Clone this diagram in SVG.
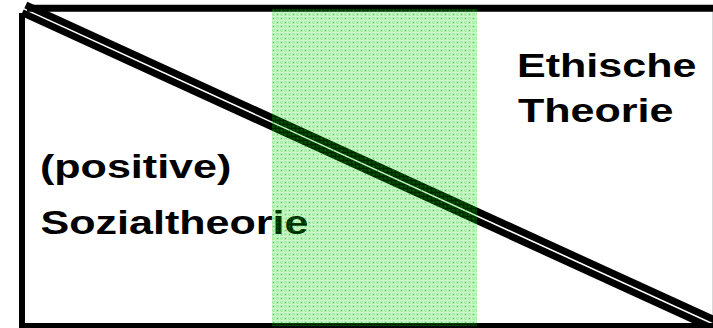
<svg xmlns="http://www.w3.org/2000/svg" width="713" height="328" viewBox="0 0 713 328">
  <defs>
    <style>
      .frame { stroke: #000; fill: none; stroke-linecap: butt; }
      .lbl { font-family: "Liberation Sans", Arial, sans-serif; font-weight: bold; font-size: 33.5px; fill: #000; }
    </style>
    <pattern id="dots" x="272" y="9" width="8" height="8" patternUnits="userSpaceOnUse">
      <rect x="0" y="0" width="3" height="3" fill="#00cc00" fill-opacity="0.32"/>
      <rect x="4" y="0" width="3" height="3" fill="#00cc00" fill-opacity="0.32"/>
      <rect x="0" y="4" width="3" height="3" fill="#00cc00" fill-opacity="0.32"/>
      <rect x="4" y="4" width="3" height="3" fill="#00cc00" fill-opacity="0.32"/>
      <rect x="3" y="0" width="1" height="8" fill="#00cc00" fill-opacity="0.2"/>
      <rect x="7" y="0" width="1" height="8" fill="#00cc00" fill-opacity="0.2"/>
      <rect x="0" y="3" width="3" height="1" fill="#00cc00" fill-opacity="0.2"/>
      <rect x="4" y="3" width="3" height="1" fill="#00cc00" fill-opacity="0.2"/>
      <rect x="0" y="7" width="3" height="1" fill="#00cc00" fill-opacity="0.2"/>
      <rect x="4" y="7" width="3" height="1" fill="#00cc00" fill-opacity="0.2"/>
      <rect x="1" y="1" width="1" height="1" fill="#009900" fill-opacity="0.45"/>
      <rect x="5" y="5" width="1" height="1" fill="#009900" fill-opacity="0.45"/>
    </pattern>
  </defs>
  <rect x="0" y="0" width="713" height="328" fill="#fff"/>
  <g id="frame">
    <line class="frame" x1="27" y1="8.2" x2="713" y2="8.2" stroke-width="7"/>
    <line class="frame" x1="22" y1="13" x2="22" y2="329" stroke-width="6"/>
    <line class="frame" x1="19" y1="326" x2="713" y2="326" stroke-width="6"/>
    <line x1="712.5" y1="12" x2="712.5" y2="323" stroke="#d8d8d8" stroke-width="1"/>
  </g>
  <g id="connectors">
    <line class="frame" x1="25.8" y1="5" x2="716" y2="320.5" stroke-width="7"/>
    <line class="frame" x1="22.2" y1="12.6" x2="716" y2="330" stroke-width="7"/>
  </g>
  <g id="ethische">
    <text class="lbl" transform="translate(517 77) scale(1.285 1)">Ethische</text>
    <text class="lbl" transform="translate(518 122) scale(1.285 1)">Theorie</text>
  </g>
  <g id="sozial">
    <text class="lbl" transform="translate(40 178) scale(1.285 1)">(positive)</text>
    <text class="lbl" transform="translate(40.6 234) scale(1.285 1)">Sozialtheorie</text>
  </g>
  <g id="band">
    <rect x="272" y="9" width="205" height="317" fill="url(#dots)"/>
  </g>
</svg>
